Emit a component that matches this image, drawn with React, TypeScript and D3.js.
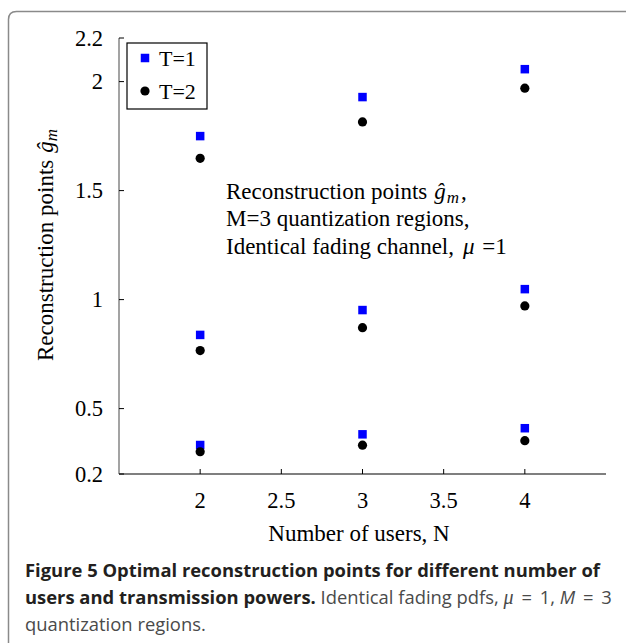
import React from "react";
import * as d3 from "d3";

const usersN = [2, 3, 4];
const t1Low = [0.333, 0.382, 0.41];
const t1Mid = [0.838, 0.952, 1.048];
const t1High = [1.75, 1.929, 2.057];
const t2Low = [0.302, 0.332, 0.353];
const t2Mid = [0.766, 0.871, 0.971];
const t2High = [1.648, 1.815, 1.97];

const xTicks = [2, 2.5, 3, 3.5, 4];
const yTicks = [0.2, 0.5, 1, 1.5, 2, 2.2];
const legendLabels = ["T=1", "T=2"];

const serif = "'Liberation Serif', 'DejaVu Serif', serif";
const sans = "'Open Sans', 'Noto Sans', sans-serif";

export default function App() {
  const W = 626, H = 643;
  const x = d3.scaleLinear().domain([1.5, 4.5]).range([119, 606]);
  const y = d3.scaleLinear().domain([0.2, 2.2]).range([474, 38]);
  const t1 = [t1Low, t1Mid, t1High];
  const t2 = [t2Low, t2Mid, t2High];
  const sq = 8.5;
  const r = 4.6;

  return (
    <div style={{ position: "absolute", left: 0, top: 0 }}>
      <svg width={W} height={H} style={{ display: "block", background: "#fff" }}>
        <path d="M8.5 650 V19.5 Q8.5 11.5 16.5 11.5 H640" fill="none" stroke="#8a8a8a" strokeWidth={1.5} />
        {/* axes */}
        <line x1={x(1.5)} x2={x(4.5)} y1={y(0.2)} y2={y(0.2)} stroke="#000" strokeWidth={1.2} />
        <line x1={x(1.5)} x2={x(1.5)} y1={y(0.2)} y2={y(2.2)} stroke="#666" strokeWidth={1.2} />
        {xTicks.map((t) => (
          <g key={"xt" + t}>
            <line x1={x(t)} x2={x(t)} y1={y(0.2)} y2={y(0.2) - 5} stroke="#000" strokeWidth={1} />
            <text x={x(t)} y={508} textAnchor="middle" fontFamily={serif} fontSize={22.5} fill="#000">{t}</text>
          </g>
        ))}
        {yTicks.map((t) => (
          <g key={"yt" + t}>
            <line x1={x(1.5)} x2={x(1.5) + 5} y1={y(t)} y2={y(t)} stroke="#000" strokeWidth={1} />
            <text x={103} y={y(t) + 7.5} textAnchor="end" fontFamily={serif} fontSize={22.5} fill="#000">{t}</text>
          </g>
        ))}
        {/* axis titles */}
        <text x={359} y={541} textAnchor="middle" fontFamily={serif} fontSize={23} fill="#000">Number of users, N</text>
        <text transform="translate(53,245) rotate(-90)" textAnchor="middle" fontFamily={serif} fontSize={23} fill="#000">
          Reconstruction points<tspan dx={7} fontStyle="italic">ĝ</tspan>
          <tspan fontStyle="italic" fontSize={17} dy={4}>m</tspan>
        </text>
        {/* data */}
        {t1.map((arr, k) =>
          arr.map((v, i) => (
            <rect key={"s" + k + i} x={x(usersN[i]) - sq / 2} y={y(v) - sq / 2} width={sq} height={sq} fill="#0000ff" />
          ))
        )}
        {t2.map((arr, k) =>
          arr.map((v, i) => (
            <circle key={"c" + k + i} cx={x(usersN[i])} cy={y(v)} r={r} fill="#000" />
          ))
        )}
        {/* legend */}
        <rect x={127} y={43} width={80} height={66} fill="#fff" stroke="#000" strokeWidth={1.2} />
        <rect x={145 - sq / 2} y={58 - sq / 2} width={sq} height={sq} fill="#0000ff" />
        <circle cx={145} cy={91} r={r} fill="#000" />
        <text x={159} y={66} fontFamily={serif} fontSize={22} fill="#000">{legendLabels[0]}</text>
        <text x={159} y={99} fontFamily={serif} fontSize={22} fill="#000">{legendLabels[1]}</text>
        {/* annotation */}
        <g fontFamily={serif} fontSize={23} fill="#000">
          <text x={226} y={199}>
            Reconstruction points<tspan dx={7} fontStyle="italic">ĝ</tspan>
            <tspan fontStyle="italic" fontSize={17} dy={4} dx={1}>m</tspan>
            <tspan dy={-4} dx={2}>,</tspan>
          </text>
          <text x={226} y={226}>M=3 quantization regions,</text>
          <text x={226} y={254}>
            Identical fading channel,<tspan dx={9} fontStyle="italic">μ</tspan><tspan dx={2}> =1</tspan>
          </text>
        </g>
        {/* caption */}
        <g fontFamily={sans} fontSize={18.4}>
          <text x={25} y={577} fontWeight="bold" fill="#231f20">
            Figure 5 Optimal reconstruction points for different number of
          </text>
          <text x={25} y={604} fill="#4a4a4a">
            <tspan fontWeight="bold" fill="#231f20">users and transmission powers.</tspan>
            <tspan> Identical fading pdfs, </tspan>
            <tspan fontStyle="italic" fontFamily={serif} fontSize={20}>μ</tspan>
            <tspan dx={3}> = </tspan>
            <tspan dx={3}>1, </tspan>
            <tspan fontStyle="italic">M</tspan>
            <tspan dx={3}> = </tspan>
            <tspan dx={3}>3</tspan>
          </text>
          <text x={25} y={631} fill="#4a4a4a">quantization regions.</text>
        </g>
      </svg>
    </div>
  );
}
